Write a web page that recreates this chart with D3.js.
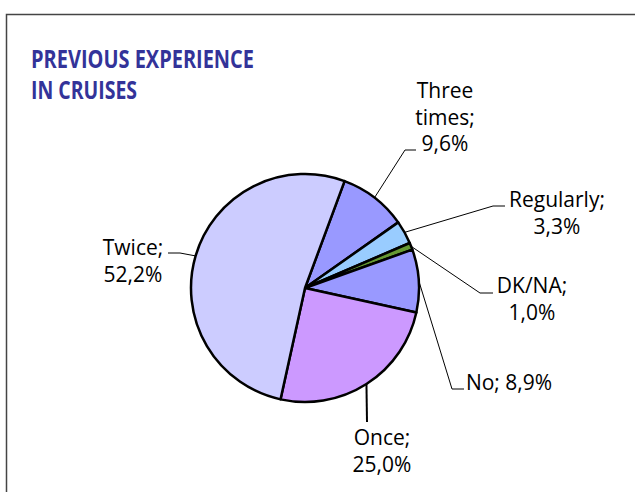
<!DOCTYPE html>
<html>
<head>
<meta charset="utf-8">
<script src="https://cdn.jsdelivr.net/npm/d3@7"></script>
<style>
  body { margin: 0; background: #fff; }
  svg { display: block; }
</style>
</head>
<body>
<svg width="635" height="492"></svg>
<script>
// Data (clockwise order as drawn)
var categories = ['Three times', 'Regularly', 'DK/NA', 'No', 'Once', 'Twice'];
var values = [9.6, 3.3, 1.0, 8.9, 25.0, 52.2];
var labelLines = [
  ['Three', 'times;', '9,6%'],
  ['Regularly;', '3,3%'],
  ['DK/NA;', '1,0%'],
  ['No; 8,9%'],
  ['Once;', '25,0%'],
  ['Twice;', '52,2%']
];
var colors = ['#9999ff', '#99ccff', '#669933', '#9999ff', '#cc99ff', '#ccccff'];

// Label layout: text centre, first baseline, leader elbow and end
var labelPos = [
  { x: 445, y: 98, elbow: [405, 150], end: [416, 150] },
  { x: 557, y: 207, elbow: [493, 206], end: [505, 206] },
  { x: 532, y: 293, elbow: [480, 293], end: [493, 293] },
  { x: 509, y: 390, elbow: [452, 389], end: [464, 389] },
  { x: 382, y: 445, elbow: [367, 422], end: [367, 422] },
  { x: 133, y: 255, elbow: [180, 253], end: [168, 253] }
];

var svg = d3.select('svg');

var cx = 305, cy = 288, radius = 114;
var startDeg = 20.3;

// Frame (only top and left edges are visible in the window)
svg.append('path')
  .attr('d', 'M6.5,500 L6.5,14.5 L640,14.5')
  .attr('fill', 'none')
  .attr('stroke', '#444')
  .attr('stroke-width', 1.5);

// Title
var title = svg.append('g')
  .attr('fill', '#333399')
  .attr('font-family', 'Open Sans, sans-serif')
  .attr('font-weight', 'bold')
  .attr('font-size', 25);
title.append('text')
  .attr('x', 31).attr('y', 68)
  .attr('textLength', 223).attr('lengthAdjust', 'spacingAndGlyphs')
  .text('PREVIOUS EXPERIENCE');
title.append('text')
  .attr('x', 31).attr('y', 99)
  .attr('textLength', 106).attr('lengthAdjust', 'spacingAndGlyphs')
  .text('IN CRUISES');

var data = categories.map(function (c, i) {
  return { name: c, value: values[i], lines: labelLines[i], color: colors[i], pos: labelPos[i] };
});

var pie = d3.pie()
  .sort(null)
  .value(function (d) { return d.value; })
  .startAngle(startDeg * Math.PI / 180)
  .endAngle(startDeg * Math.PI / 180 + 2 * Math.PI);

var arc = d3.arc().innerRadius(0).outerRadius(radius);

var arcs = pie(data);

var g = svg.append('g')
  .attr('transform', 'translate(' + cx + ',' + cy + ')');

g.selectAll('path.slice')
  .data(arcs)
  .enter().append('path')
  .attr('class', 'slice')
  .attr('d', arc)
  .attr('fill', function (d) { return d.data.color; })
  .attr('stroke', '#000')
  .attr('stroke-width', 2.5)
  .attr('stroke-linejoin', 'round');

// Leader lines
svg.selectAll('polyline.leader')
  .data(arcs)
  .enter().append('polyline')
  .attr('class', 'leader')
  .attr('fill', 'none')
  .attr('stroke', '#000')
  .attr('stroke-width', function (d) { return d.data.name === 'Once' ? 2 : 1; })
  .attr('points', function (d) {
    var a = (d.startAngle + d.endAngle) / 2;
    var sx = cx + radius * Math.sin(a);
    var sy = cy - radius * Math.cos(a);
    var p = d.data.pos;
    return [[sx, sy], p.elbow, p.end].map(function (q) { return q.join(','); }).join(' ');
  });

// Labels
var labels = svg.selectAll('text.label')
  .data(arcs)
  .enter().append('text')
  .attr('class', 'label')
  .attr('font-family', 'Open Sans, sans-serif')
  .attr('font-size', 21)
  .attr('fill', '#000')
  .attr('text-anchor', 'middle');

labels.each(function (d) {
  var t = d3.select(this);
  d.data.lines.forEach(function (line, i) {
    t.append('tspan')
      .attr('x', d.data.pos.x)
      .attr('y', d.data.pos.y + i * 26.5)
      .text(line);
  });
});
</script>
</body>
</html>
